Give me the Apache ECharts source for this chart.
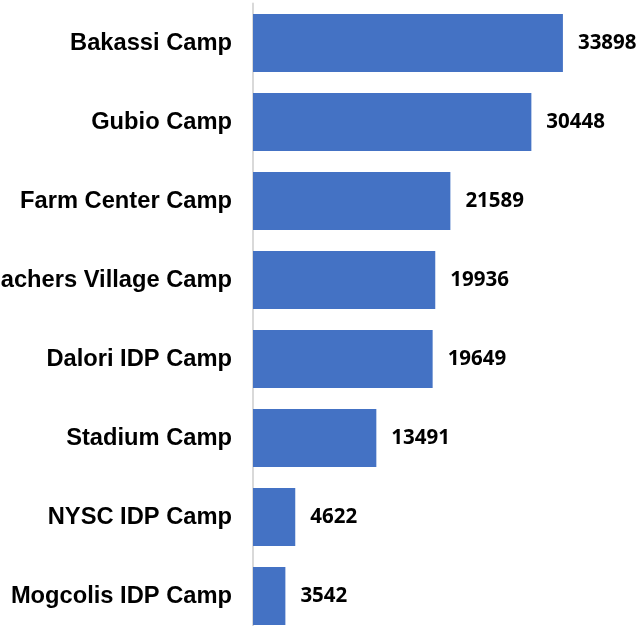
<!DOCTYPE html>
<html><head><meta charset="utf-8">
<script src="https://cdn.jsdelivr.net/npm/echarts@6/dist/echarts.min.js"></script>
<style>html,body{margin:0;padding:0;background:#fff;}#c{width:642px;height:626px;}</style>
</head><body><div id="c"></div>
<script>
const categories = ["Bakassi Camp","Gubio Camp","Farm Center Camp","Teachers Village Camp","Dalori IDP Camp","Stadium Camp","NYSC IDP Camp","Mogcolis IDP Camp"];
const values = [33898,30448,21589,19936,19649,13491,4622,3542];
const chart = echarts.init(document.getElementById('c'));
chart.setOption({
  animation:false,
  grid:{left:253, top:3.5, width:365.7, height:632, containLabel:false, outerBoundsMode:'none'},
  xAxis:{type:'value', min:0, max:40000, show:false},
  yAxis:{type:'category', data:categories, inverse:true,
    axisLine:{show:true, lineStyle:{color:'#d9d9d9', width:2}},
    axisTick:{show:false},
    axisLabel:{margin:21, color:'#000', fontFamily:'Liberation Sans, Arial, sans-serif', fontWeight:'bold', fontSize:23.7}
  },
  series:[{type:'bar', data:values, barWidth:58,
    itemStyle:{color:'#4472C4'},
    label:{show:true, position:'right', distance:15, color:'#000', fontFamily:'Open Sans, sans-serif', fontWeight:'bold', fontSize:20.5}
  }]
});
</script></body></html>
